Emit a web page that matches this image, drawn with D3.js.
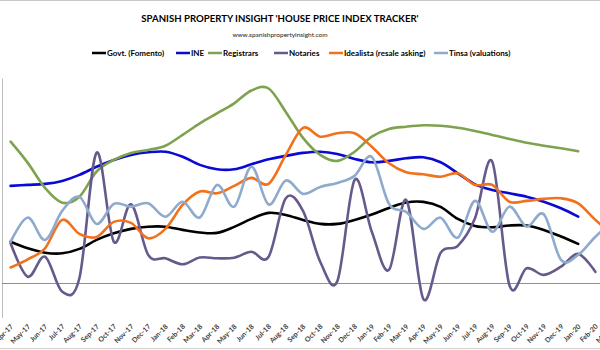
<!DOCTYPE html>
<html>
<head>
<meta charset="utf-8">
<script src="https://cdn.jsdelivr.net/npm/d3@7/dist/d3.min.js"></script>
<style>
  body { margin: 0; background: #fff; }
  svg { display: block; font-family: Lato, 'Open Sans', sans-serif; }
</style>
</head>
<body>
<svg id="chart"></svg>
<script>
// month labels (Mar-20 sits just past the right edge of the crop)
const months = ['Apr-17','May-17','Jun-17','Jul-17','Aug-17','Sep-17','Oct-17','Nov-17','Dec-17',
  'Jan-18','Feb-18','Mar-18','Apr-18','May-18','Jun-18','Jul-18','Aug-18','Sep-18','Oct-18','Nov-18','Dec-18',
  'Jan-19','Feb-19','Mar-19','Apr-19','May-19','Jun-19','Jul-19','Aug-19','Sep-19','Oct-19','Nov-19','Dec-19',
  'Jan-20','Feb-20','Mar-20'];

// annual change (Apr-17 onwards)
const fomento = [2.04,1.71,1.49,1.46,1.68,2.13,2.46,2.68,2.79,2.79,2.63,2.50,2.48,2.78,3.18,3.48,3.38,3.13,
  2.93,2.93,3.13,3.40,3.73,4.00,4.03,3.78,3.18,2.83,2.76,2.85,2.85,2.63,2.30,1.93];
const ine = [4.83,4.88,4.93,5.08,5.38,5.79,6.13,6.38,6.51,6.54,6.29,5.88,5.66,5.66,5.91,6.16,6.33,6.48,
  6.54,6.43,6.18,6.01,6.08,6.21,6.26,6.01,5.46,4.91,4.63,4.46,4.29,4.04,3.71,3.29];
const registrars = [7.04,5.98,4.73,3.99,4.29,5.55,6.13,6.48,6.63,6.84,7.38,7.96,8.46,8.96,9.60,9.70,8.53,7.23,
  6.38,6.08,6.54,7.29,7.68,7.79,7.86,7.84,7.74,7.58,7.38,7.18,6.99,6.84,6.71,6.56];
const notaries = [1.96,0.29,1.29,-0.46,0.21,6.49,2.04,3.91,1.38,1.21,0.91,1.25,1.21,1.24,1.54,1.29,4.21,3.58,
  1.04,0.08,5.13,2.54,0.63,4.13,-0.83,1.48,1.83,3.21,6.05,-0.13,0.71,0.38,0.79,1.43,0.53];
const idealista = [0.75,1.16,1.71,3.13,2.43,2.28,3.03,2.98,2.21,2.68,3.88,4.55,4.46,4.83,5.23,4.93,6.38,7.73,
  7.29,7.46,7.46,6.79,5.96,5.51,5.41,5.29,5.46,4.88,4.88,4.04,4.08,4.18,4.21,3.96,3.13,2.38];
const tinsa = [2.03,3.25,2.13,3.58,4.28,2.93,3.93,3.79,3.96,3.29,4.04,3.25,4.88,3.79,5.79,3.90,5.10,4.43,
  4.78,4.98,5.33,6.28,3.93,3.53,2.68,3.24,2.24,4.08,2.54,3.79,2.79,3.41,1.13,1.38,2.29,3.03];

const seriesNames = ['Govt. (Fomento)', 'INE', 'Registrars', 'Notaries', 'Idealista (resale asking)', 'Tinsa (valuations)'];
const seriesColors = ['#000000', '#0a0ad2', '#7fa24f', '#665a8c', '#f2711c', '#8eaacc'];

const series = [fomento, ine, registrars, notaries, idealista, tinsa].map((values, i) => ({
  name: seriesNames[i],
  color: seriesColors[i],
  values: values.map((v, j) => ({ month: months[j], value: v }))
}));

const width = 600, height = 350;
const svg = d3.select('#chart')
  .attr('width', width)
  .attr('height', height);

// outer frame lines of the cropped image
svg.append('line').attr('x1', 0).attr('x2', width).attr('y1', 0.5).attr('y2', 0.5)
  .attr('stroke', '#c8c8c8');
svg.append('line').attr('x1', 0).attr('x2', width).attr('y1', 348.5).attr('y2', 348.5)
  .attr('stroke', '#d0d0d0');

// title block
svg.append('text')
  .attr('x', 280).attr('y', 22)
  .attr('text-anchor', 'middle')
  .attr('font-size', 9.6)
  .attr('font-weight', 'bold')
  .text("SPANISH PROPERTY INSIGHT 'HOUSE PRICE INDEX TRACKER'");

svg.append('text')
  .attr('x', 280).attr('y', 37)
  .attr('text-anchor', 'middle')
  .attr('font-size', 6.5)
  .attr('fill', '#222')
  .text('www.spanishpropertyinsight.com');

// legend
const legendX = [92, 176, 208, 274, 329, 434];
const legend = svg.append('g').selectAll('g').data(series)
  .enter().append('g')
    .attr('transform', (d, i) => `translate(${legendX[i]},53)`);
legend.append('line')
  .attr('x1', 0).attr('x2', 14)
  .attr('stroke', d => d.color)
  .attr('stroke-width', 2.5);
legend.append('text')
  .attr('x', 15).attr('dy', '0.35em')
  .attr('font-size', 8)
  .attr('font-weight', 'bold')
  .text(d => d.name);

// scales
const xScale = d3.scaleBand()
  .domain(months)
  .range([2, 2 + months.length * 17.2]);

const yScale = d3.scaleLinear()
  .domain([-2, 11])
  .range([322.5, 62.5]);

const xPos = d => xScale(d.month) + xScale.bandwidth() / 2;

// vertical axis line (no labels)
svg.append('line')
  .attr('x1', 2.5).attr('x2', 2.5)
  .attr('y1', yScale(10.2)).attr('y2', 318)
  .attr('stroke', '#bdbdbd');

// zero line
svg.append('line')
  .attr('x1', 2).attr('x2', width)
  .attr('y1', Math.round(yScale(0)) + 0.5).attr('y2', Math.round(yScale(0)) + 0.5)
  .attr('stroke', '#c9504d')
  .attr('stroke-width', 0.8);

// month axis
const xAxis = svg.append('g')
  .attr('transform', 'translate(0,322)')
  .call(d3.axisBottom(xScale).tickSize(0));
xAxis.select('.domain').remove();
xAxis.selectAll('text')
  .attr('font-family', 'Lato, sans-serif')
  .attr('font-size', 7)
  .attr('font-weight', 'bold')
  .attr('fill', '#404040')
  .attr('text-anchor', 'end')
  .attr('dy', 0)
  .attr('y', 0)
  .attr('transform', 'translate(3,5) rotate(-45)');

// series lines
const line = d3.line()
  .x(xPos)
  .y(d => yScale(d.value))
  .curve(d3.curveCatmullRom.alpha(0));

svg.append('g').selectAll('path').data(series)
  .enter().append('path')
    .attr('d', d => line(d.values))
    .attr('fill', 'none')
    .attr('stroke', d => d.color)
    .attr('stroke-width', 2.6)
    .attr('stroke-linejoin', 'round')
    .attr('stroke-linecap', 'round');
</script>
</body>
</html>
